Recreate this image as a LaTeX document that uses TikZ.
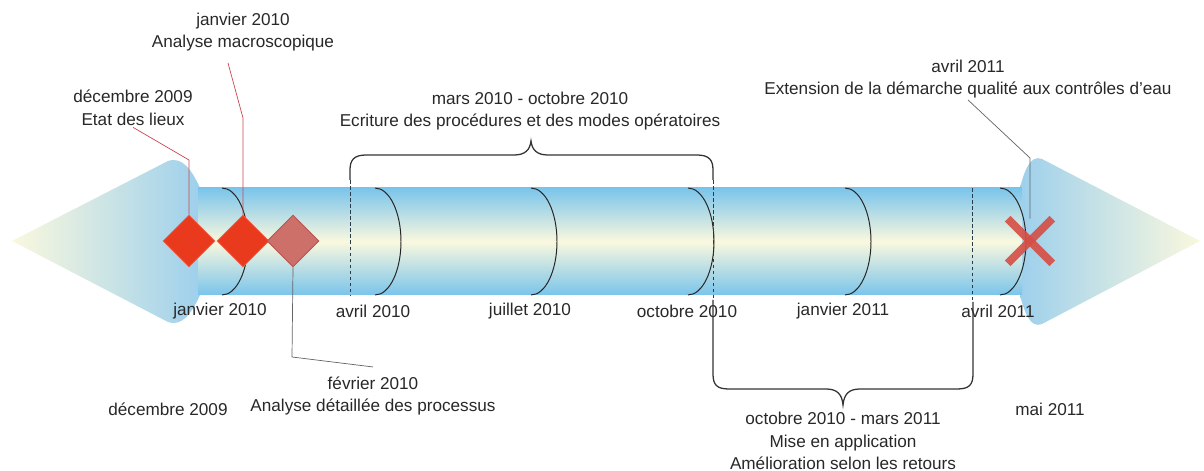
\documentclass[tikz,border=0pt]{standalone}
\usepackage{fontspec}
\setmainfont{Liberation Sans}
\usetikzlibrary{shapes.geometric,calc}
\definecolor{tblue}{RGB}{122,196,235}
\definecolor{tcream}{RGB}{250,248,222}
\definecolor{hblue}{RGB}{158,208,236}
\definecolor{dred}{RGB}{234,58,30}
\definecolor{dpink}{RGB}{206,112,106}
\definecolor{dpinkb}{RGB}{185,85,80}
\definecolor{xred}{RGB}{214,78,68}
\definecolor{txt}{RGB}{40,40,40}
\definecolor{lred}{RGB}{205,70,80}
\definecolor{lgray}{RGB}{100,100,100}
\definecolor{dash}{RGB}{40,60,75}
\begin{document}
\begin{tikzpicture}[x=0.025cm,y=-0.025cm,
  lbl/.style={text=txt,font=\fontsize{12.2}{16}\selectfont,align=center,inner sep=1pt},
  arcline/.style={draw=black!85,line width=0.7pt},
  dashline/.style={draw=dash,line width=0.5pt,dash pattern=on 2.5pt off 1.8pt},
  brace/.style={draw=black!80,line width=0.9pt},
  mark1/.style={diamond,aspect=1,inner sep=0pt,minimum size=1.3cm,fill=dred,draw=dred!80!white,line width=0.4pt},
  mark2/.style={diamond,aspect=1,inner sep=0pt,minimum size=1.3cm,fill=dpink,draw=dpinkb,line width=0.6pt},
  xline/.style={draw=xred,opacity=0.9,line width=0.2cm},
  leadred/.style={draw=lred,line width=0.5pt},
  leadgray/.style={draw=lgray,line width=0.5pt}
]
\useasboundingbox (0,0) rectangle (1204,471);
% arrow heads
\shade[left color=tcream,right color=hblue]
  (12,241) -- (168,161) .. controls (182,156) and (192,170) .. (200,188)
  -- (200,295) .. controls (192,313) and (182,327) .. (168,322) -- cycle;
\shade[left color=hblue,right color=tcream]
  (1200,241) -- (1042,159) .. controls (1030,154) and (1024,172) .. (1020,188)
  -- (1020,295) .. controls (1024,311) and (1030,329) .. (1042,324) -- cycle;
% shaft
\shade[top color=tblue,bottom color=tblue,middle color=tcream] (198,188) rectangle (1022,295);
% cylinder marks
\foreach \x in {222,375,531,688,845,1000}
  \draw[arcline] (\x,188) arc[start angle=-90,end angle=90,x radius=26,y radius=53.5];
% dashed lines
\draw[dashline] (350,180) -- (350,295);
\draw[dashline] (713,180) -- (713,300);
\draw[dashline] (972,188) -- (972,302);
% markers
\node[mark1] (d1) at (189,241) {};
\node[mark1] (d2) at (243,241) {};
\node[mark2] (d3) at (293,241) {};
\node[minimum size=1.1cm,inner sep=0pt] (cr) at (1030,241) {};
\draw[xline] (cr.north west) -- (cr.south east);
\draw[xline] (cr.north east) -- (cr.south west);
% axis labels
\node[lbl] (a1) at (220,311) {janvier 2010};
\node[lbl] (a2) at (373,311) {avril 2010};
\node[lbl] (a3) at (530,311) {juillet 2010};
\node[lbl] (a4) at (687,311) {octobre 2010};
\node[lbl] (a5) at (843,311) {janvier 2011};
\node[lbl] (a6) at (998,311) {avril 2011};
% event labels
\node[lbl] (tJan) at (243,32) {janvier 2010\\Analyse macroscopique};
\node[lbl] (tDec) at (133,108) {décembre 2009\\Etat des lieux};
\node[lbl] (tMars) at (530,111) {mars 2010 - octobre 2010\\Ecriture des procédures et des modes opératoires};
\node[lbl] (tAvr) at (968,79) {avril 2011\\Extension de la démarche qualité aux contrôles d’eau};
\node[lbl] (tFev) at (373,396) {février 2010\\Analyse détaillée des processus};
\node[lbl] (tDec2) at (168,409) {décembre 2009};
\node[lbl] (tOct) at (843,441) {octobre 2010 - mars 2011\\Mise en application\\Amélioration selon les retours};
\node[lbl] (tMai) at (1050,409) {mai 2011};
% leaders
\draw[leadred] (tDec.south) -- (189,160) -- (d1.north);
\draw[leadred] ($(tJan.south)+(-15,10)$) -- (243,118) -- (d2.north);
\draw[leadgray] (d3.south) -- (292,357) -- ($(tFev.north)+(0,-8)$);
\draw[leadgray] (tAvr.south) -- (1030,158) -- (cr.north);
% braces
\coordinate (b1) at (350,180);
\coordinate (b2) at (713,180);
\coordinate (b3) at (713,300);
\coordinate (b4) at (973,302);
\draw[brace] (b1) -- (350,170) .. controls (350,160) and (354,155) .. (366,155)
  -- (514,155) .. controls (525,155) and (530,150) .. (531,141)
  .. controls (532,150) and (537,155) .. (548,155) -- (697,155)
  .. controls (709,155) and (713,160) .. (713,170) -- (b2);
\draw[brace] (b3) -- (713,374) .. controls (713,385) and (717,389) .. (729,389)
  -- (826,389) .. controls (837,389) and (842,394) .. (843,405)
  .. controls (844,394) and (849,389) .. (860,389) -- (957,389)
  .. controls (969,389) and (973,385) .. (973,374) -- (b4);
\end{tikzpicture}
\end{document}
